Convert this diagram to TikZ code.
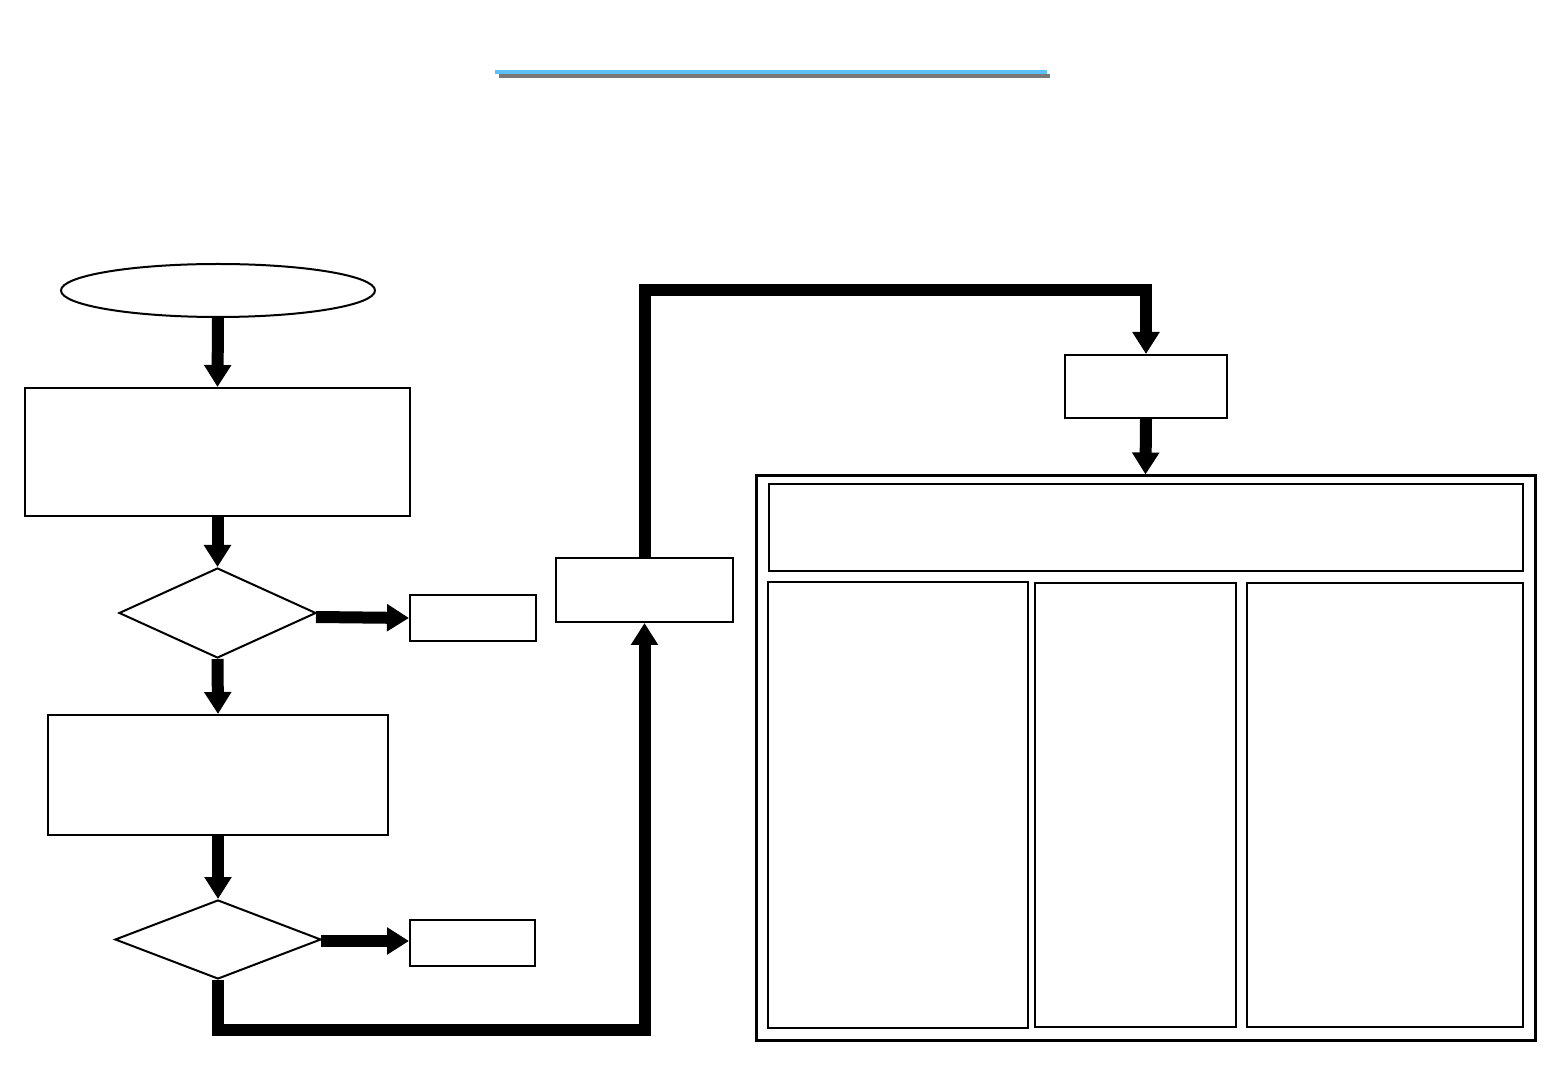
\documentclass[tikz,border=0pt]{standalone}
\usetikzlibrary{arrows.meta,shapes.geometric}
\definecolor{titleblue}{RGB}{91,192,248}
\definecolor{titlegray}{RGB}{120,120,120}
\begin{document}
\begin{tikzpicture}[x=0.5pt,y=-0.5pt,
  boxn/.style={draw=black,line width=1pt,rectangle,inner sep=0pt,fill=white},
  dia/.style={draw=black,line width=1pt,diamond,inner sep=0pt,fill=white},
  flow/.style={line width=6pt,-{Triangle[width=13pt,length=11pt]},shorten >=0pt},
  route/.style={line width=6pt,line join=miter}
]
\useasboundingbox[fill=white] (0,0) rectangle (1560,1080);
% title underline
\draw[line width=2pt,draw=titlegray] (499,76.5) -- (1050,76.5);
\draw[line width=1.6pt,draw=titleblue] (495,72) -- (1047,72);
% nodes
\node[boxn,ellipse,minimum width=157pt,minimum height=26.5pt] (start) at (218,290.5) {};
\node[boxn,minimum width=192.5pt,minimum height=64pt] (b1) at (217.5,452) {};
\node[dia,minimum width=98.5pt,minimum height=45pt] (d1) at (217.5,613) {};
\node[boxn,minimum width=63pt,minimum height=23pt] (s1) at (473,618) {};
\node[boxn,minimum width=170pt,minimum height=60pt] (b2) at (218,775) {};
\node[dia,minimum width=103pt,minimum height=39.5pt] (d2) at (218,939.5) {};
\node[boxn,minimum width=62.5pt,minimum height=23pt] (s2) at (472.5,943) {};
\node[boxn,minimum width=88.5pt,minimum height=32pt] (b3) at (644.5,590) {};
\node[boxn,minimum width=81pt,minimum height=31.5pt] (b4) at (1146,386.5) {};
\node[boxn,line width=1.5pt,minimum width=389.5pt,minimum height=282pt] (big) at (1145.5,758) {};
\node[boxn,minimum width=377pt,minimum height=43.5pt] (top) at (1146,527.5) {};
\node[boxn,minimum width=130pt,minimum height=223pt] (c1) at (898,805) {};
\node[boxn,minimum width=100.5pt,minimum height=222pt] (c2) at (1135.5,805) {};
\node[boxn,minimum width=138pt,minimum height=222pt] (c3) at (1385,805) {};
% connectors
\coordinate (e1) at (316,617);
\coordinate (e2) at (321,941);
\draw[flow] (start.south) -- (b1.north);
\draw[flow] (b1.south) -- (d1.north);
\draw[flow] (e1) -- (s1.west);
\draw[flow] (d1.south) -- (b2.north);
\draw[flow] (b2.south) -- (d2.north);
\draw[flow] (e2) -- (e2 -| s2.west);
\coordinate (k1) at (218,1030);
\coordinate (k2) at (644.5,290);
\draw[route,-{Triangle[width=13pt,length=11pt]}] (d2.south) -- (k1) -| (b3.south);
\draw[route,-{Triangle[width=13pt,length=11pt]}] (b3.north) -- (k2) -| (b4.north);
\draw[flow] (b4.south) -- (big.north);
\end{tikzpicture}
\end{document}
